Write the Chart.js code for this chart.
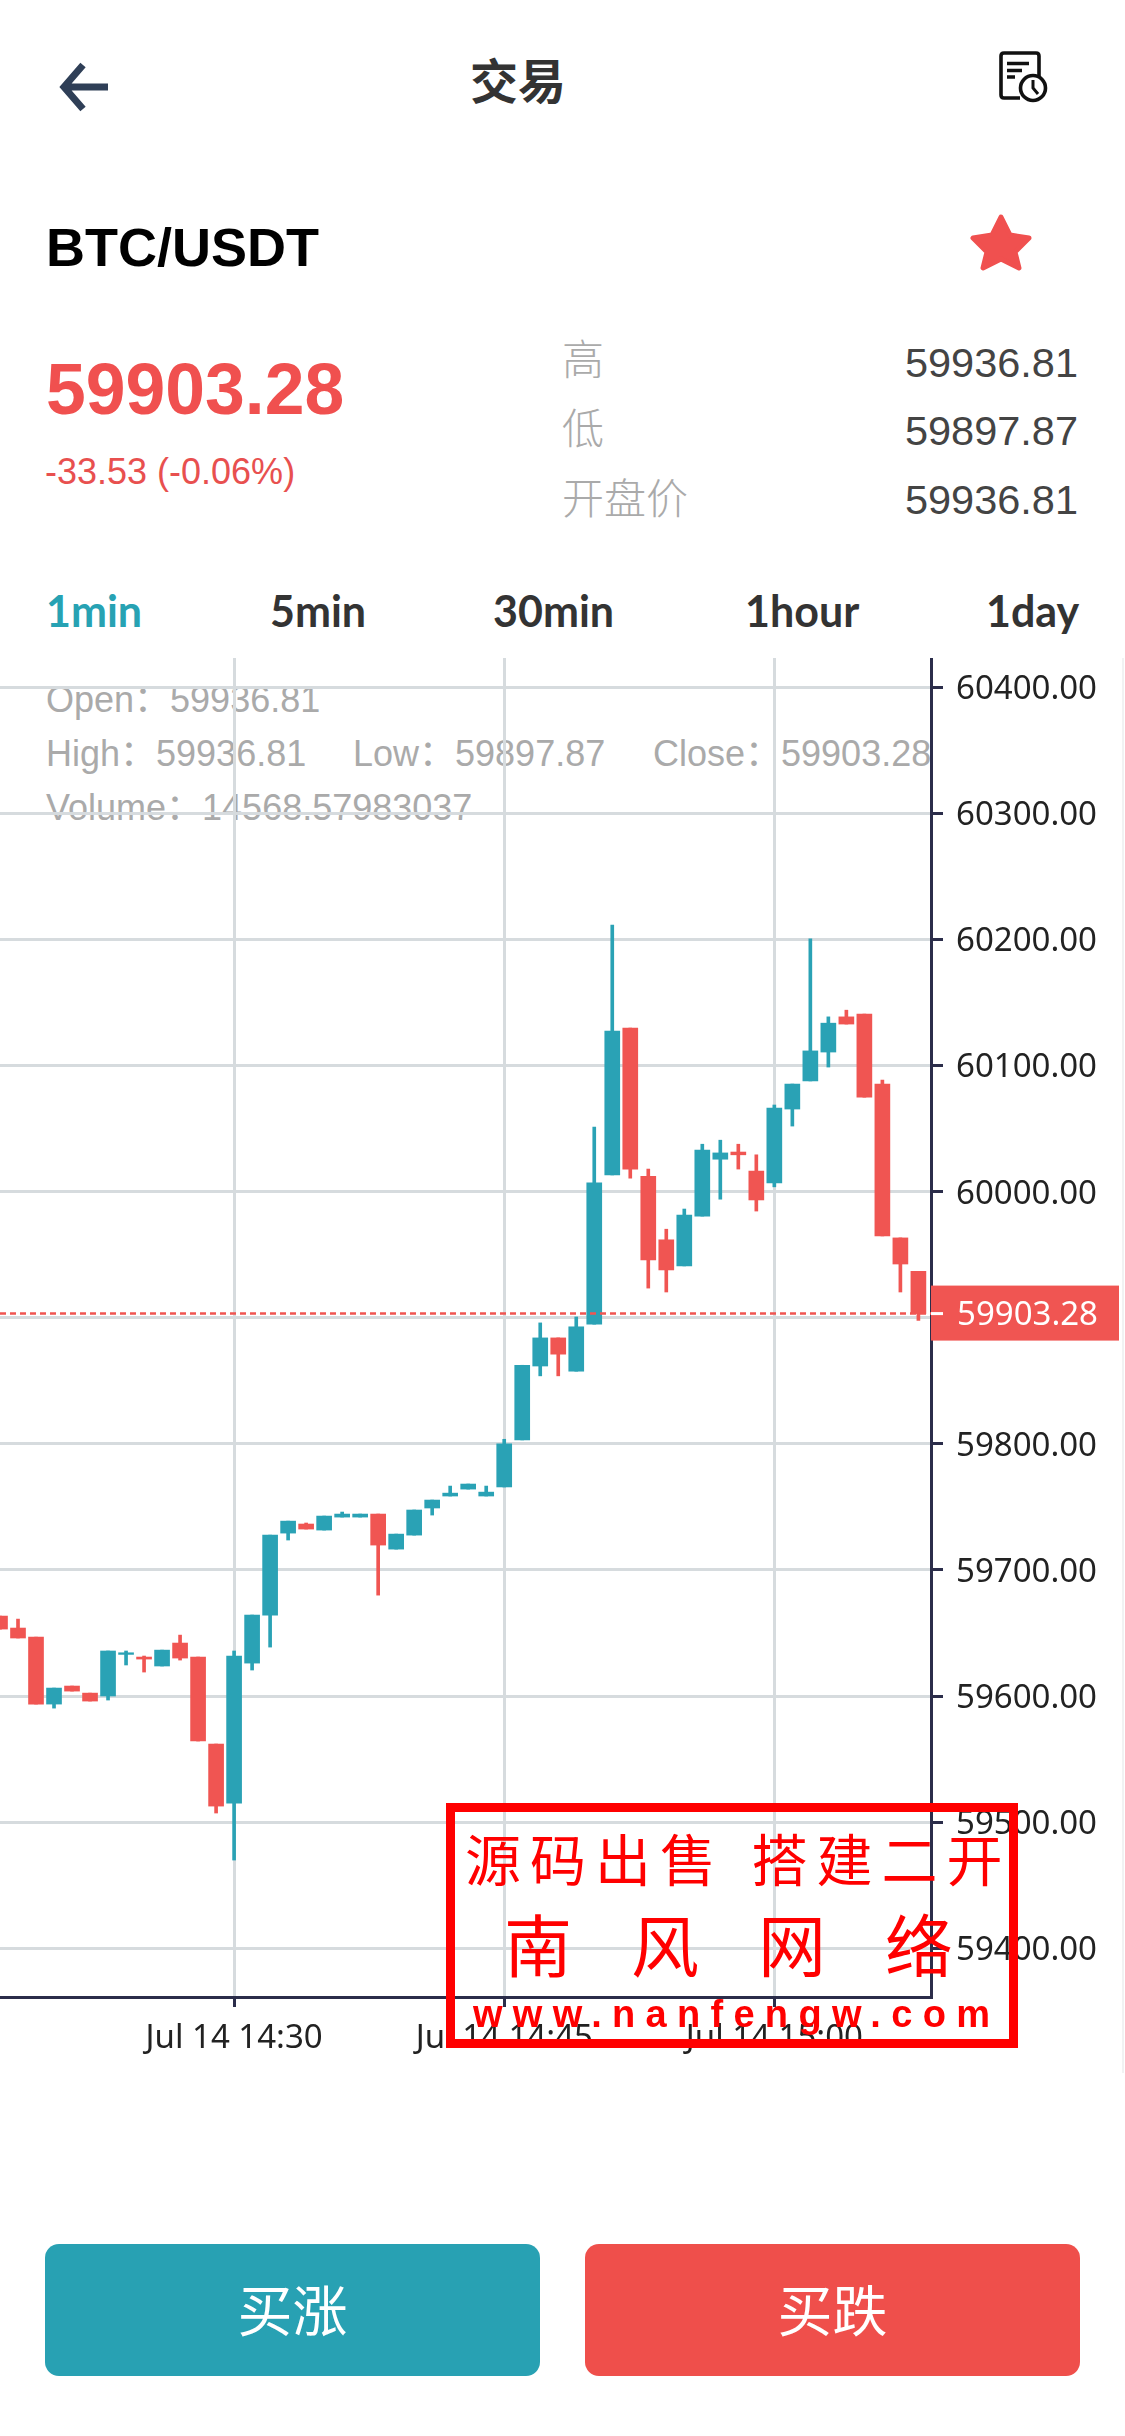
<!DOCTYPE html>
<html lang="zh">
<head>
<meta charset="utf-8">
<title>交易</title>
<script src="https://cdn.jsdelivr.net/npm/chart.js@4"></script>
<style>
  html, body { margin: 0; padding: 0; background: #fff; }
  body { position: relative; width: 1125px; height: 2436px; overflow: hidden; font-family: "Liberation Sans", "Noto Sans CJK SC", sans-serif; }
  .t { position: absolute; white-space: pre; line-height: 1; transform: translateY(-50%); }
  .cjk { font-family: "Noto Sans CJK SC", sans-serif; }
  .tab { font-family: Lato, sans-serif; font-weight: 700; font-size: 43px; color: #333; top: 610px; }
  .side { font-size: 42px; color: #aaa; left: 562px; font-family: "Noto Sans CJK SC", sans-serif; font-weight: 300; }
  .num { font-size: 41.5px; color: #444; right: 47px; }
  .info { font-size: 36px; color: #aaa; }
  #chart-wrap { position: absolute; left: 0; top: 658px; width: 1125px; height: 1402px; }
  #edge { position: absolute; left: 1122px; top: 658px; width: 2px; height: 1415px; background: #f1f2f3; }
  .btn { position: absolute; top: 2244px; height: 132px; border-radius: 14px; color: #fff; font-family: "Noto Sans CJK SC", sans-serif; font-size: 55px; line-height: 126px; text-align: center; }
  #stamp { position: absolute; left: 446px; top: 1803px; width: 572px; height: 245px; box-sizing: border-box; border: 9px solid #f00; }
  .mark { color: #f00; font-family: "Noto Sans CJK SC", sans-serif; }
</style>
</head>
<body>

<svg style="position:absolute;left:0;top:0" width="1125" height="300" viewBox="0 0 1125 300">
  <path d="M108 87 H66 M83 65 L64 87 L83 109" fill="none" stroke="#2f3f57" stroke-width="7"/>
  <path d="M1039 76 V56 Q1039 53 1036 53 H1004 Q1001 53 1001 56 V95 Q1001 98 1004 98 H1020" fill="none" stroke="#111" stroke-width="3.6"/>
  <path d="M1007 63.5 H1029 M1007 70.5 H1022 M1007 77 H1015" fill="none" stroke="#111" stroke-width="3.6"/>
  <circle cx="1033" cy="88" r="12.5" fill="#fff" stroke="#111" stroke-width="3.6"/>
  <path d="M1033 80 V88 L1038 94" fill="none" stroke="#111" stroke-width="3"/>
  <path d="M1001 217 L1010 235 L1029 238 L1015 252 L1019 268 L1001 259 L983 268 L987 252 L973 238 L992 235 Z" fill="#f0504f" stroke="#f0504f" stroke-width="5" stroke-linejoin="round"/>
</svg>

<div class="t cjk" style="left:470px;top:78px;font-size:48px;font-weight:700;color:#333">交易</div>
<div class="t" style="left:46px;top:247px;font-size:54px;font-weight:700;color:#000">BTC/USDT</div>
<div class="t" style="left:46px;top:390px;font-size:71.5px;font-weight:700;color:#f0504f">59903.28</div>
<div class="t" style="left:45px;top:472px;font-size:36px;color:#e8504f">-33.53 (-0.06%)</div>

<div class="t side" style="top:357px">高</div>
<div class="t side" style="top:426px">低</div>
<div class="t side" style="top:496px">开盘价</div>
<div class="t num" style="top:363px">59936.81</div>
<div class="t num" style="top:431px">59897.87</div>
<div class="t num" style="top:500px">59936.81</div>

<div class="t tab" style="left:46px;color:#27a2b3">1min</div>
<div class="t tab" style="left:270px">5min</div>
<div class="t tab" style="left:493px">30min</div>
<div class="t tab" style="left:745px">1hour</div>
<div class="t tab" style="left:986px">1day</div>

<div class="t info" style="left:46px;top:700px">Open：59936.81</div>
<div class="t info" style="left:46px;top:754px">High：59936.81</div>
<div class="t info" style="left:353px;top:754px">Low：59897.87</div>
<div class="t info" style="left:653px;top:754px">Close：59903.28</div>
<div class="t info" style="left:46px;top:808px">Volume：14568.57983037</div>

<div id="edge"></div>
<div id="chart-wrap"><canvas id="chart-kline" width="1125" height="1402"></canvas></div>

<div class="btn" style="left:45px;width:495px;background:#28a1b3">买涨</div>
<div class="btn" style="left:585px;width:495px;background:#ef4f4b">买跌</div>

<div id="stamp"></div>
<div class="t mark" style="left:465px;top:1857px;font-size:56px;letter-spacing:9px;word-spacing:5px">源码出售 搭建二开</div>
<div class="t mark" style="left:504px;top:1943px;font-size:68px;letter-spacing:59px">南风网络</div>
<div class="t mark" style="left:473px;top:2014px;font-size:38px;font-weight:700;letter-spacing:10.3px;font-family:'Liberation Sans',sans-serif">www.nanfengw.com</div>

<script>
// velas de 1 minuto, Jul 14
const times = ['14:17','14:18','14:19','14:20','14:21','14:22','14:23','14:24','14:25','14:26','14:27','14:28','14:29',
  '14:30','14:31','14:32','14:33','14:34','14:35','14:36','14:37','14:38','14:39','14:40','14:41','14:42','14:43','14:44',
  '14:45','14:46','14:47','14:48','14:49','14:50','14:51','14:52','14:53','14:54','14:55','14:56','14:57','14:58','14:59',
  '15:00','15:01','15:02','15:03','15:04','15:05','15:06','15:07','15:08'];
const opens = [59663.4,59653.9,59646.7,59593.6,59607.9,59602.3,59600.0,59633.0,59630.9,59623.8,59642.0,59630.9,59561.9,
  59515.1,59626.1,59664.2,59729.2,59736.4,59731.6,59741.9,59741.9,59744.3,59716.5,59727.6,59749.1,59758.6,59764.1,59758.6,
  59765.8,59803.1,59861.7,59884.0,59857.6,59894.9,60013.2,60129.8,60012.2,59961.8,59941.1,59980.6,60025.7,60031.4,60016.3,
  60006.9,60065.5,60087.8,60110.7,60138.6,60140.8,60085.3,59963.3,59936.81];
const closes = [59653.1,59646.0,59593.6,59606.3,59603.9,59596.0,59635.7,59634.3,59629.3,59636.4,59630.1,59564.3,59512.7,
  59631.7,59664.2,59727.6,59738.7,59732.4,59742.7,59744.3,59744.3,59719.7,59728.4,59747.5,59755.4,59760.9,59768.1,59761.7,
  59800.0,59862.3,59884.0,59871.1,59892.8,60006.9,60127.3,60017.9,59945.8,59937.9,59981.5,60032.9,60030.7,60029.2,59993.4,
  60066.2,60085.3,60111.6,60133.6,60132.9,60074.9,59964.9,59942.6,59903.28];
const highs = [59663.4,59661.0,59646.7,59606.3,59607.9,59602.3,59635.7,59635.7,59631.7,59636.4,59648.3,59630.9,59561.9,
  59635.7,59664.2,59727.6,59738.7,59737.2,59742.7,59745.9,59744.3,59744.3,59728.4,59747.5,59755.4,59766.5,59768.1,59766.5,
  59803.6,59862.3,59895.9,59884.0,59900.6,60051.1,60211.3,60129.8,60017.9,59970.2,59986.2,60037.6,60040.8,60037.6,60029.2,
  60068.7,60085.3,60200.4,60138.6,60143.9,60140.8,60088.4,59963.3,59936.81];
const lows = [59653.1,59646.0,59593.6,59590.4,59603.9,59596.0,59596.8,59624.6,59619.0,59623.8,59628.5,59564.3,59507.2,
  59469.9,59620.6,59638.8,59723.7,59732.4,59731.6,59741.9,59741.9,59680.0,59716.5,59727.6,59743.5,59758.6,59764.1,59758.6,
  59765.8,59803.1,59853.9,59853.9,59857.6,59894.9,60013.2,60010.7,59923.5,59920.4,59941.1,59980.6,59994.0,60017.9,59984.6,
  60003.8,60052.0,60087.8,60098.8,60132.9,60074.9,59964.9,59920.4,59897.87];
const lastPrice = 59903.28;

const colorUp = '#2aa2b5';
const colorDown = '#f05552';
const colorGrid = '#d6dbde';
const colorAxis = '#2b2d4a';

// minutos del día, para el eje lineal
const minutes = times.map(t => {
  const [h, m] = t.split(':').map(Number);
  return h * 60 + m;
});
const xMin = minutes[0];
const xMax = 908.7;
const candleColors = opens.map((o, i) => (closes[i] >= o ? colorUp : colorDown));

function minuteLabel(value) {
  const h = Math.floor(value / 60);
  const m = String(value % 60).padStart(2, '0');
  return `Jul 14 ${h}:${m}`;
}

// Baja un poco los textos del eje Y para centrarlos sobre la rejilla
const labelNudge = {
  id: 'labelNudge',
  beforeDraw(chart) {
    const scale = chart.scales.y;
    const drawLabels = scale.drawLabels.bind(scale);
    scale.drawLabels = area => {
      chart.ctx.save();
      chart.ctx.translate(0, 2.5);
      drawLabels(area);
      chart.ctx.restore();
    };
  }
};

// Etiqueta del último precio sobre el eje derecho
const lastPriceTag = {
  id: 'lastPriceTag',
  afterDraw(chart) {
    const { ctx, chartArea } = chart;
    const y = chart.scales.y.getPixelForValue(lastPrice);
    ctx.save();
    ctx.fillStyle = colorDown;
    ctx.fillRect(chartArea.right, y - 28, 188, 55);
    ctx.fillStyle = '#fff';
    ctx.fillRect(chartArea.right, y - 1.5, 12, 3);
    ctx.font = '33px "Noto Sans"';
    ctx.textBaseline = 'middle';
    ctx.fillText(lastPrice.toFixed(2), chartArea.right + 26, y + 2);
    ctx.restore();
  }
};

new Chart(document.getElementById('chart-kline'), {
  data: {
    datasets: [
      {
        type: 'line',
        data: [{ x: xMin, y: lastPrice }, { x: xMax, y: lastPrice }],
        borderColor: colorDown,
        borderWidth: 2.5,
        borderDash: [6, 4],
        pointRadius: 0,
        order: 0
      },
      {
        type: 'bar',
        data: minutes.map((m, i) => ({ x: m, y: [opens[i], closes[i]] })),
        backgroundColor: candleColors,
        barThickness: 15,
        grouped: false,
        order: 1
      },
      {
        type: 'bar',
        data: minutes.map((m, i) => ({ x: m, y: [lows[i], highs[i]] })),
        backgroundColor: candleColors,
        barThickness: 3,
        grouped: false,
        order: 2
      }
    ]
  },
  options: {
    responsive: false,
    devicePixelRatio: 1,
    animation: false,
    layout: { padding: 0, autoPadding: false },
    plugins: { legend: { display: false }, tooltip: { enabled: false } },
    scales: {
      x: {
        type: 'linear',
        offset: false,
        min: xMin,
        max: xMax,
        afterFit(scale) {
          scale.height = 63;
          scale.paddingLeft = 0;
          scale.paddingRight = 0;
        },
        grid: { offset: false, color: colorGrid, lineWidth: 3, tickColor: colorAxis, tickLength: 10, tickWidth: 3 },
        border: { color: colorAxis, width: 3 },
        ticks: {
          stepSize: 15,
          includeBounds: false,
          autoSkip: false,
          maxRotation: 0,
          padding: 12,
          color: '#222',
          font: { family: 'Noto Sans', size: 33 },
          callback: value => minuteLabel(value)
        }
      },
      y: {
        position: 'right',
        min: 59361.3,
        max: 60423.2,
        afterFit(scale) {
          scale.width = 194;
          scale.paddingTop = 0;
          scale.paddingBottom = 0;
        },
        grid: { color: colorGrid, lineWidth: 3, tickColor: colorAxis, tickLength: 12, tickWidth: 3 },
        border: { color: colorAxis, width: 3 },
        ticks: {
          stepSize: 100,
          includeBounds: false,
          autoSkip: false,
          padding: 13,
          color: '#222',
          font: { family: 'Noto Sans', size: 33 },
          callback: value => value.toFixed(2)
        }
      }
    }
  },
  plugins: [labelNudge, lastPriceTag]
});
</script>
</body>
</html>
